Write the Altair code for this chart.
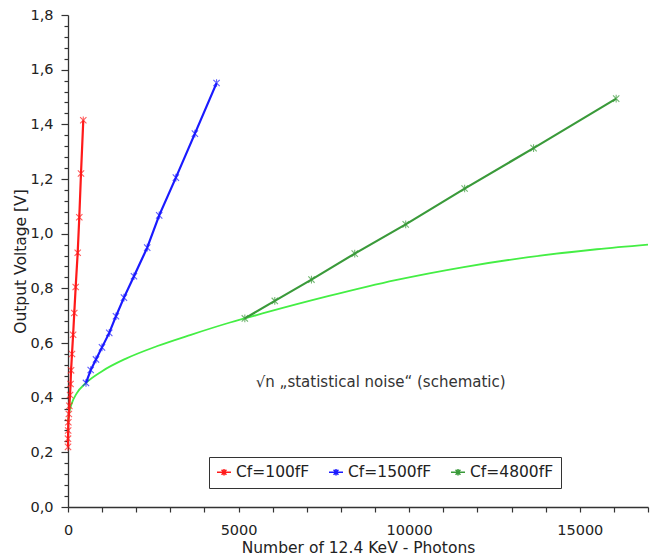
import altair as alt
import pandas as pd

# ---- data ----
series_names = ["Cf=100fF", "Cf=1500fF", "Cf=4800fF"]
series_colors = ["#ff1a1a", "#1a1aff", "#3a9a3a"]

red_x = [0, 0, 5, 10, 25, 40, 60, 75, 90, 117, 150, 184, 225, 284, 331, 381, 448]
red_v = [0.22, 0.25, 0.28, 0.31, 0.34, 0.37, 0.41, 0.45, 0.50, 0.56, 0.63, 0.71, 0.805, 0.93, 1.06, 1.22, 1.415]

blue_x = [527, 665, 820, 996, 1209, 1406, 1640, 1933, 2322, 2673, 3162, 3719, 4354]
blue_v = [0.454, 0.501, 0.540, 0.584, 0.637, 0.698, 0.766, 0.844, 0.949, 1.067, 1.205, 1.366, 1.551]

green_x = [5183, 6061, 7136, 8404, 9898, 11625, 13646, 16067]
green_v = [0.690, 0.754, 0.832, 0.927, 1.034, 1.165, 1.313, 1.494]

noise_x = [0, 30, 100, 250, 527, 1000, 1700, 2600, 3600, 4750, 5700, 7650, 9600, 11600, 13500, 15500, 17000]
noise_v = [0.31, 0.34, 0.375, 0.415, 0.454, 0.497, 0.543, 0.588, 0.630, 0.675, 0.708, 0.772, 0.830, 0.878, 0.914, 0.943, 0.960]

annotation_text = ["\u221an \u201estatistical noise\u201c (schematic)"]
annotation_x = [9165]
annotation_v = [0.457]

x_ticks = list(range(0, 17001, 1000))
y_ticks = [round(i * 0.04, 2) for i in range(46)]

# ---- tables ----
rows = []
for name, xs, vs in zip(series_names, [red_x, blue_x, green_x], [red_v, blue_v, green_v]):
    for i, (xv, yv) in enumerate(zip(xs, vs)):
        rows.append({"series": name, "n": xv, "v": yv, "i": i})
df = pd.DataFrame(rows)
df_noise = pd.DataFrame({"n": noise_x, "v": noise_v, "i": list(range(len(noise_x)))})
df_text = pd.DataFrame({"t": annotation_text, "n": annotation_x, "v": annotation_v})

FONT = "DejaVu Sans"
TXT = "#222222"

asterisk = "M-1,-1L1,1M-1,1L1,-1M0,-1.2L0,1.2"
legend_sym = "M-1,0L1,0M-0.35,-0.35L0.35,0.35M-0.35,0.35L0.35,-0.35M0,-0.45L0,0.45"

x_scale = alt.Scale(domain=[0, 17000], nice=False, zero=False)
y_scale = alt.Scale(domain=[0, 1.8], nice=False, zero=False)

MAJOR_TEST = "abs(datum.value*5 - round(datum.value*5)) < 0.001"

x_axis = alt.Axis(
    title="Number of 12.4 KeV - Photons",
    values=x_ticks,
    labelExpr="datum.value % 5000 == 0 ? format(datum.value, 'd') : ''",
    labelOverlap=False,
    labelFlush=False,
    grid=False,
    tickSize=5,
    labelPadding=11,
    titlePadding=4,
    labelFontSize=14.5,
    titleFontSize=15.5,
    titleFontWeight="normal",
)
y_axis = alt.Axis(
    title="Output Voltage [V]",
    values=y_ticks,
    labelExpr=MAJOR_TEST + " ? replace(format(datum.value, '.1f'), '.', ',') : ''",
    labelOverlap=False,
    labelFlush=False,
    grid=False,
    tickSize={"condition": {"test": MAJOR_TEST, "value": 7}, "value": 4},
    labelPadding=8,
    titlePadding=1,
    labelFontSize=14.5,
    titleFontSize=15.5,
    titleFontWeight="normal",
)

X = alt.X("n:Q", scale=x_scale, axis=x_axis)
Y = alt.Y("v:Q", scale=y_scale, axis=y_axis)

color_legend = alt.Legend(
    title=None,
    orient="none",
    legendX=141,
    legendY=442,
    direction="horizontal",
    symbolType=legend_sym,
    symbolSize=196,
    symbolStrokeWidth=1.5,
    labelFontSize=15.5,
    labelFont=FONT,
    labelColor=TXT,
    columnPadding=16,
    labelOffset=4,
    padding=7,
    strokeColor="#333333",
    fillColor="white",
)

color_scale = alt.Scale(domain=series_names, range=series_colors)

lines = alt.Chart(df).mark_line(strokeWidth=2.2).encode(
    x=X,
    y=Y,
    color=alt.Color("series:N", scale=color_scale, legend=color_legend),
    order="i:O",
)

points = alt.Chart(df).mark_point(shape=asterisk, filled=False, size=40, strokeWidth=1.1).encode(
    x=X,
    y=Y,
    color=alt.Color("series:N", scale=color_scale, legend=None),
)

noise = alt.Chart(df_noise).mark_line(color="#44ee44", strokeWidth=1.8, interpolate="monotone").encode(
    x=X,
    y=Y,
    order="i:O",
)

label = alt.Chart(df_text).mark_text(
    font=FONT, fontSize=15, color="#333333", align="center", baseline="middle"
).encode(
    x=X,
    y=Y,
    text="t:N",
)

chart = alt.layer(noise, lines, points, label).properties(
    width=580,
    height=492,
    padding={"left": 60, "top": 7, "right": 10, "bottom": 53},
    autosize=alt.AutoSizeParams(type="none"),
).configure_view(
    stroke=None
).configure_axis(
    labelFont=FONT,
    titleFont=FONT,
    labelColor=TXT,
    titleColor=TXT,
    domainColor="#333333",
    tickColor="#333333",
    domainWidth=1.3,
    tickWidth=1.2,
)

chart.save("out.html", embed_options={"renderer": "svg", "actions": False})
